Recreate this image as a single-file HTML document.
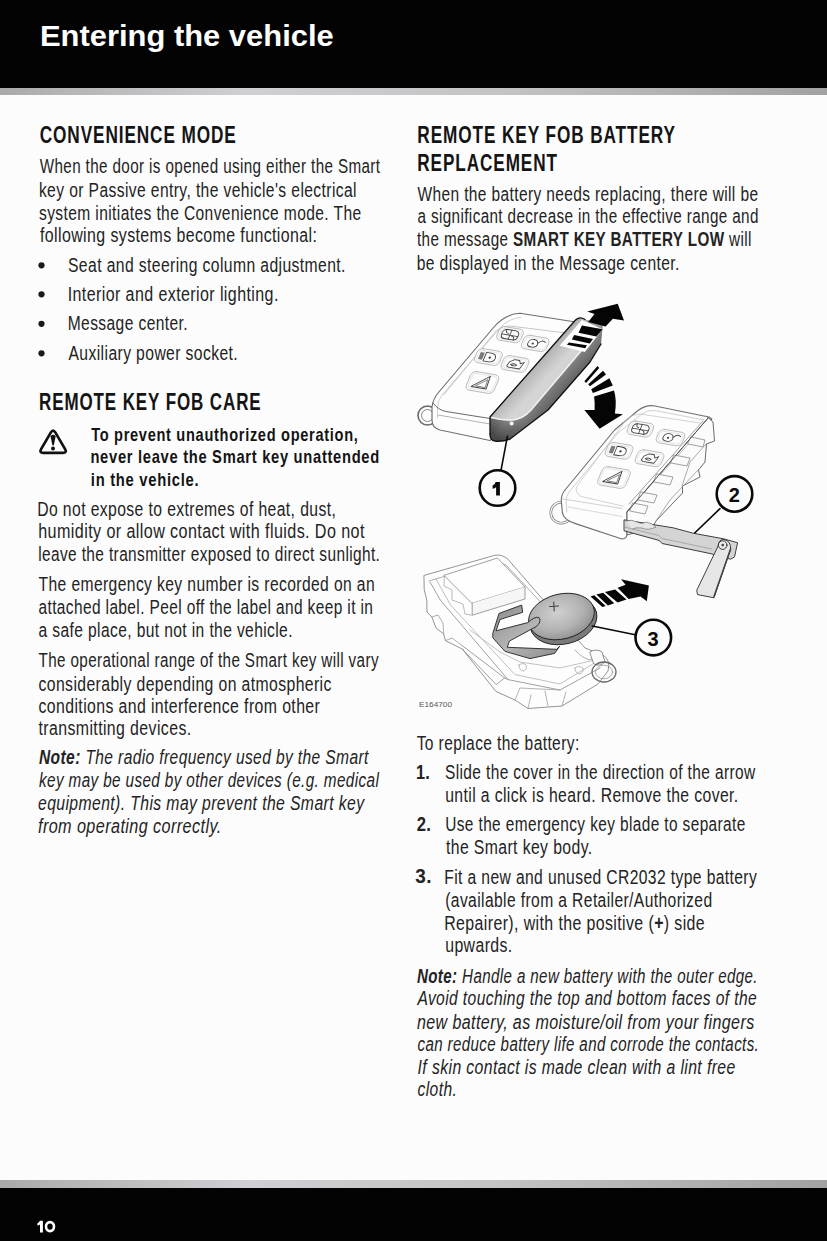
<!DOCTYPE html>
<html><head><meta charset="utf-8"><title>Entering the vehicle</title>
<style>
html,body{margin:0;padding:0;background:#fcfcfc;}
body{width:827px;height:1241px;overflow:hidden;position:relative;}
svg{position:absolute;left:0;top:0;display:block;}
text{font-family:"Liberation Sans",sans-serif;}
</style></head><body>
<svg width="827" height="1241" viewBox="0 0 827 1241">
<defs>
<linearGradient id="band" x1="0" y1="0" x2="1" y2="0">
<stop offset="0" stop-color="#a9a9a9"/><stop offset="0.08" stop-color="#b5b5b5"/><stop offset="0.3" stop-color="#cfcfd4"/><stop offset="0.6" stop-color="#c4c4c4"/><stop offset="1" stop-color="#a2a2a2"/>
</linearGradient>
<linearGradient id="cover" x1="0" y1="1" x2="1" y2="0">
<stop offset="0" stop-color="#4a4a4a"/><stop offset="0.45" stop-color="#8a8a8a"/><stop offset="0.7" stop-color="#b8b8b8"/><stop offset="1" stop-color="#6a6a6a"/>
</linearGradient>
<radialGradient id="coin" cx="0.4" cy="0.35" r="0.8">
<stop offset="0" stop-color="#c8c8c8"/><stop offset="0.6" stop-color="#9a9a9a"/><stop offset="1" stop-color="#6a6a6a"/>
</radialGradient>
</defs>
<rect x="0" y="0" width="827" height="88" fill="#030303"/>
<rect x="0" y="88" width="827" height="7" fill="url(#band)"/>
<rect x="0" y="1180" width="827" height="8" fill="url(#band)"/>
<rect x="0" y="1188" width="827" height="53" fill="#030303"/>
<g fill="#1a1a1a">
<circle cx="41.5" cy="265.3" r="3.1"/>
<circle cx="41.5" cy="294.3" r="3.1"/>
<circle cx="41.5" cy="323.8" r="3.1"/>
<circle cx="41.5" cy="353.3" r="3.1"/>
</g>
<path d="M50.9,432.4 Q53.1,428.7 55.3,432.4 L65.1,449.1 Q67.2,452.8 62.9,452.8 L43.3,452.8 Q39.0,452.8 41.1,449.1 Z" fill="none" stroke="#111" stroke-width="2.7" stroke-linejoin="round"/>
<path d="M50.5,436.2 Q53.1,433.4 55.7,436.2 L53.8,445.2 L52.4,445.2 Z" fill="#111"/>
<circle cx="53.0" cy="448.6" r="2.0" fill="#111"/>

<path d="M39.8,1220.8 L42.9,1220.8 L42.9,1232.4 L40,1232.4 L40,1224.6 Q38.8,1225.4 37.4,1225.6 L37.4,1223.2 Q39.4,1222.6 39.8,1220.8 Z" fill="#ffffff"/>
<ellipse cx="50" cy="1226.6" rx="4.0" ry="4.5" fill="none" stroke="#ffffff" stroke-width="2.6"/>

<g id="illus" stroke-linejoin="round" stroke-linecap="round">
<!-- ===== Fob 2 (right) ===== -->
<g fill="#fdfdfd" stroke="#5a5a5a" stroke-width="0.9">
  <!-- ring -->
  <circle cx="561.3" cy="512.7" r="10.5" fill="none" stroke-width="2.6" stroke="#777"/>
  <circle cx="561.3" cy="512.7" r="10.5" fill="none" stroke-width="1.2" stroke="#fafafa"/>
  <!-- body -->
  <path d="M711.8,419 Q709,416 705,416.3 L655,406 Q646,404.5 638,410.5 L614.6,430 L565,490 Q561,495 561.3,501 L562.4,512.7 Q563.5,520 575.5,523.6 L621.2,538.8 Q626,539.5 627,535 L627,512 Z" stroke="#707070" stroke-width="1.15"/>
  <path d="M704,420 L655,410.5 Q647,409.5 641,414.5 L618,433 L569,492 Q566,496 566.2,502 L566.8,512" fill="none" stroke="#c4c4c4" stroke-width="0.8"/>
  <path d="M563,499 L622,508.5" fill="none" stroke="#c4c4c4" stroke-width="0.8"/>
  <path d="M568,507 L622,516.5" fill="none" stroke="#cfcfcf" stroke-width="0.8"/>
  <path d="M700,423 L640,414 Q632,414 626,420 L577,486 Q574,492 580.9,496.4 L623.3,506.2" fill="none" stroke="#c8c8c8" stroke-width="0.8"/>
<!-- right side structure -->
  <path d="M708,417.5 L713,422 L714.5,441 L706.5,444 L705,462 L698.5,470 L700,477 L682.5,486 L682.5,493 L656,521 L652,528 L627,535 L627,512 L707.8,418.3 Z" fill="#fbfbfb"/>
  <path d="M703,421 L629,504" fill="none" stroke="#888" stroke-width="0.8"/>
  <path d="M692,440 L640,497" fill="none" stroke="#999" stroke-width="0.7"/>
  <path d="M691,437 L705,440 L703,447 L688,444 Z M674,455 L690,458 L687,466 L671,463 Z M657,474 L673,477 L670,485 L654,482 Z M641,492 L657,495 L654,503 L638,500 Z M633,503 L648,506 L645,514 L630,511 Z" fill="#fafafa" stroke="#7a7a7a" stroke-width="0.7"/>
  <path d="M706,444 L690,462 L682,486 M698,470 L670,500 L656,521" fill="none" stroke="#8a8a8a" stroke-width="0.7"/>
  <path d="M627,512 L707.8,418.3" fill="none" stroke="#555" stroke-width="1"/>
</g>
<!-- fob2 buttons -->
<g transform="matrix(1,0.17,-0.42,1,640.4,429)"><rect x="-12.0" y="-6.75" width="24" height="13.5" rx="4.5" fill="#fcfcfc" stroke="#b4b4b4" stroke-width="0.8"/><rect x="-10.2" y="-4.95" width="20.4" height="9.9" rx="3.0" fill="none" stroke="#dcdcdc" stroke-width="0.6"/></g><g transform="matrix(1,0.17,-0.42,1,670.5,437.6)"><rect x="-13.0" y="-6.75" width="26" height="13.5" rx="4.5" fill="#fcfcfc" stroke="#b4b4b4" stroke-width="0.8"/><rect x="-11.2" y="-4.95" width="22.4" height="9.9" rx="3.0" fill="none" stroke="#dcdcdc" stroke-width="0.6"/></g><g transform="matrix(1,0.17,-0.42,1,619.1,450.8)"><rect x="-12.5" y="-7.0" width="25" height="14" rx="4.5" fill="#fcfcfc" stroke="#b4b4b4" stroke-width="0.8"/><rect x="-10.7" y="-5.2" width="21.4" height="10.4" rx="3.0" fill="none" stroke="#dcdcdc" stroke-width="0.6"/></g><g transform="matrix(1,0.17,-0.42,1,649.5,458.2)"><rect x="-13.0" y="-7.0" width="26" height="14" rx="4.5" fill="#fcfcfc" stroke="#b4b4b4" stroke-width="0.8"/><rect x="-11.2" y="-5.2" width="22.4" height="10.4" rx="3.0" fill="none" stroke="#dcdcdc" stroke-width="0.6"/></g><g transform="matrix(1,0.17,-0.42,1,614,477.5)"><rect x="-14.0" y="-9.25" width="28" height="18.5" rx="4.5" fill="#fcfcfc" stroke="#b4b4b4" stroke-width="0.8"/><rect x="-12.2" y="-7.45" width="24.4" height="14.9" rx="3.0" fill="none" stroke="#dcdcdc" stroke-width="0.6"/></g><g transform="matrix(1,0.17,-0.42,1,640.4,429)" fill="none" stroke="#404040" stroke-width="0.85" stroke-linejoin="round" stroke-linecap="round"><path d="M-8,1 Q-9,-4 -4,-4.5 L4,-4.5 Q9,-4 8,1 Q8,4.5 4,4.5 L-4,4.5 Q-8,4.5 -8,1 Z"/><path d="M-8,0.5 L8,0.5 M0,-4.5 L0,4.5"/><path d="M-5,-4.5 Q-5,-1 -2,-1 M5,4.5 Q5,1 2,1"/></g><g transform="matrix(1,0.17,-0.42,1,670.5,437.6)" fill="none" stroke="#404040" stroke-width="0.85" stroke-linejoin="round" stroke-linecap="round"><path d="M-7,1 Q-7,-3.5 -2.5,-3.5 Q2.5,-3.5 2.5,1 Q2.5,4 -2.5,4 Q-7,4 -7,1 Z"/><path d="M2.5,-0.5 Q5,-5 9,-2.5"/><circle cx="-2.3" cy="0.5" r="0.6" fill="#3a3a3a"/></g><g transform="matrix(1,0.17,-0.42,1,619.1,450.8)" fill="none" stroke="#404040" stroke-width="0.85" stroke-linejoin="round" stroke-linecap="round"><rect x="-9" y="-3.5" width="4" height="7" fill="#7a7a7a" stroke="none"/><path d="M-3.5,-4 L1,-4 Q7,-4 7,0.5 Q7,4.5 1,4.5 L-3.5,4.5 Z"/><circle cx="1.5" cy="0.3" r="0.7" fill="#3a3a3a"/></g><g transform="matrix(1,0.17,-0.42,1,649.5,458.2)" fill="none" stroke="#404040" stroke-width="0.85" stroke-linejoin="round" stroke-linecap="round"><path d="M-7,3 L-6,-1 L-2,-4 L3,-4 L5,-1 L8,-3 L7,1 L6,4 L-5,4 Z M-4,1 Q-1,-1 2,1 Q-1,3 -4,1 Z"/></g><g transform="matrix(1,0.17,-0.42,1,614,477.5)" fill="none" stroke="#404040" stroke-width="0.85" stroke-linejoin="round" stroke-linecap="round"><path d="M-9,5.5 L5,-7 L6,5.5 Z" stroke-width="0.9"/><path d="M-5,4 L4,-3.5 L4.5,4 Z" stroke-width="0.7" stroke="#666"/></g>
<!-- blade -->
<g stroke="#2a2a2a" stroke-width="0.9" stroke-linejoin="round">
  <path d="M624.4,519.9 L673.2,527.8 L693.6,533.3 L723.5,538.8 L737.6,542.7 L734.5,556.9 L730.6,559.2 L710.9,553.7 L662.2,543.5 L659,540.4 L624.4,530.9 Z" fill="#d4d4d4"/>
  <path d="M624.4,527 L659,535.5 L662,538.5 L712,549" fill="none" stroke="#8a8a8a" stroke-width="0.6"/>
  <path d="M626,521 q6,-2 11,1 q5,3 9,0 q6,1 10,5 q-8,4 -14,1 q-6,-1 -10,1" fill="#e6e6e6" stroke="#666" stroke-width="0.6"/>
  <path d="M718,545.9 Q719,539 724,539.5 Q731,541 730.6,549 L714,597.8 L697.5,594.6 L696.8,590.7 Z" fill="#e6e6e6"/>
  <path d="M730.6,549 L714,596.5" fill="none" stroke="#444" stroke-width="1.6"/>
  <circle cx="722.7" cy="545.1" r="4.3" fill="#e8e8e8"/>
  <circle cx="722.7" cy="545.1" r="1.3" fill="#444" stroke="none"/>
</g>
<!-- ===== Battery holder (bottom) ===== -->
<g fill="#fdfdfd" stroke="#7a7a7a" stroke-width="0.8" stroke-linejoin="round">
  <path d="M424.3,575.3 L494.8,555.3 Q502,554 508,559.3 L585,648 L603,655 Q611,660 608,671 L598,684 L562,706 L528,708.5 L515,700 L496,691.5 L462.3,649 L445.4,640.6 L443.7,634 L436,628 L431.9,617 L427,612 L426.8,600 L424.3,590 Z"/>
  <path d="M429,581 L496,561 L506,565 L576,640" fill="none" stroke="#9a9a9a"/>
  <path d="M430,582 L440.3,600 L508,679.6 L560,690 L600,668" fill="none" stroke="#8a8a8a"/>
  <path d="M436,579 L450.5,605 L514.8,674.5 L560,684 L596,662" fill="none" stroke="#b0b0b0"/>
  <path d="M462.3,645.7 L504.6,677.9 L508,679.6 M462.3,649 L496.2,684.6 L504.6,677.9" fill="none" stroke="#888"/>
  <path d="M515,700 L520,688 L560,690 M528,708.5 L531,695 M545,691 L548,706 M562,706 L566,692" fill="none" stroke="#a0a0a0"/>
  <path d="M431.9,617 L438,615 L443,623 L443.7,634 M445.4,640.6 L452,638 L462.3,645.7" fill="none" stroke="#999"/>
  <path d="M444.3,575.3 L497.4,558 L525,587 L472.2,603.2 Z" fill="#fefefe" stroke="#888"/>
  <path d="M472.2,603.2 L472.2,615.2 L525,599 L525,587" fill="#f6f6f6" stroke="#888"/>
  <path d="M444.3,575.3 L444,586 L452,590 L452,600 L463,604 L465,614 L472.2,615.2" fill="none" stroke="#aaa"/>
  <path d="M470,630 L500,652 L520,662 L560,668 L595,660" fill="none" stroke="#b4b4b4"/>
  <path d="M575,650 Q582,658 590,660 L598,654" fill="none" stroke="#999"/>
  <path d="M519,665 q4,-3 7,0 q2,4 -2,6 q-5,0 -5,-6 Z M575,668 q4,-3 8,0 q1,5 -4,6 q-4,-1 -4,-6 Z" fill="none" stroke="#aaa"/>
  <path d="M590,652 Q596,648 602,652 L605,662 Q600,667 594,664 Z" fill="#fbfbfb" stroke="#777"/>
  <ellipse cx="604" cy="672" rx="12" ry="10" fill="none" stroke-width="1.3" stroke="#666"/>
  <ellipse cx="604" cy="672" rx="8.5" ry="6.8" fill="none" stroke-width="0.6" stroke="#777"/>
</g>
<!-- coin -->
<defs>
<radialGradient id="coin2" cx="0.45" cy="0.4" r="0.7">
<stop offset="0" stop-color="#d0d0d0"/><stop offset="0.55" stop-color="#b2b2b2"/><stop offset="1" stop-color="#858585"/>
</radialGradient>
</defs>
<g stroke="#222" stroke-width="0.9">
  <ellipse cx="563.5" cy="620.5" rx="34" ry="23.5" transform="rotate(-14 563.5 620.5)" fill="#7a7a7a"/>
  <ellipse cx="561.5" cy="616.5" rx="33.5" ry="22.5" transform="rotate(-14 561.5 616.5)" fill="url(#coin2)"/>
  <path d="M549.5,606.5 l9,-0.5 M553.7,602 l0.5,9" stroke="#444" stroke-width="1.1"/>
</g>
<!-- clip -->
<defs>
<linearGradient id="clipg" x1="0" y1="0" x2="1" y2="1">
<stop offset="0" stop-color="#8a8a8a"/><stop offset="0.5" stop-color="#b5b5b5"/><stop offset="1" stop-color="#8c8c8c"/>
</linearGradient>
</defs>
<path d="M492.9,633 L499,613.4 L521.7,605.1 L522.7,612.3 L500,619.5 L496,630.8 L527.8,622.6 Q535,616 539,617.5 Q542,622 536,626.7 L509.3,641.1 L507.3,647.3 L556.6,649.3 L559.7,646.2 L554.6,653.4 L530,658.6 L505,651.4 L493,638 Z" fill="url(#clipg)" stroke="#222" stroke-width="0.9" stroke-linejoin="round"/>
<!-- ===== Fob 1 (top-left) ===== -->
<g fill="#fdfdfd" stroke="#5a5a5a" stroke-width="0.9">
  <circle cx="427.5" cy="415.5" r="9.5" fill="none" stroke-width="1.6" stroke="#6a6a6a"/>
  <circle cx="427.5" cy="415.5" r="6" fill="none" stroke-width="0.7"/>
  <path d="M520,313.3 L574,321.8 L596,342 L490,440.5 L440,430 Q432,428 432,420 L432,407 Q433,399 438,393 L494,327 Q505,314 520,313.3 Z" stroke="#707070" stroke-width="1.15"/>
  <path d="M521,317.5 Q509,318 500,328 L442,395 Q437.5,401 437.5,408 L437.5,418" fill="none" stroke="#c4c4c4" stroke-width="0.8"/>
  <path d="M433,403 Q438,410 446,411.5 L490,418.5" fill="none"/>
  <path d="M438,415 L490,424" fill="none" stroke="#aaa"/>
  <path d="M444,394.5 L496,331 Q502,325.5 510,326 L566,333" fill="none" stroke="#c0c0c0"/>
</g>
<!-- fob1 buttons -->
<g transform="matrix(1,0.17,-0.42,1,510,334.7)"><rect x="-12.0" y="-6.75" width="24" height="13.5" rx="4.5" fill="#fcfcfc" stroke="#b4b4b4" stroke-width="0.8"/><rect x="-10.2" y="-4.95" width="20.4" height="9.9" rx="3.0" fill="none" stroke="#dcdcdc" stroke-width="0.6"/></g><g transform="matrix(1,0.17,-0.42,1,535.2,343.4)"><rect x="-12.5" y="-6.75" width="25" height="13.5" rx="4.5" fill="#fcfcfc" stroke="#b4b4b4" stroke-width="0.8"/><rect x="-10.7" y="-4.95" width="21.4" height="9.9" rx="3.0" fill="none" stroke="#dcdcdc" stroke-width="0.6"/></g><g transform="matrix(1,0.17,-0.42,1,488.4,357)"><rect x="-12.5" y="-7.0" width="25" height="14" rx="4.5" fill="#fcfcfc" stroke="#b4b4b4" stroke-width="0.8"/><rect x="-10.7" y="-5.2" width="21.4" height="10.4" rx="3.0" fill="none" stroke="#dcdcdc" stroke-width="0.6"/></g><g transform="matrix(1,0.17,-0.42,1,515,364)"><rect x="-12.5" y="-7.0" width="25" height="14" rx="4.5" fill="#fcfcfc" stroke="#b4b4b4" stroke-width="0.8"/><rect x="-10.7" y="-5.2" width="21.4" height="10.4" rx="3.0" fill="none" stroke="#dcdcdc" stroke-width="0.6"/></g><g transform="matrix(1,0.17,-0.42,1,482.4,382.5)"><rect x="-14.0" y="-9.25" width="28" height="18.5" rx="4.5" fill="#fcfcfc" stroke="#b4b4b4" stroke-width="0.8"/><rect x="-12.2" y="-7.45" width="24.4" height="14.9" rx="3.0" fill="none" stroke="#dcdcdc" stroke-width="0.6"/></g><g transform="matrix(1,0.17,-0.42,1,510,334.7)" fill="none" stroke="#404040" stroke-width="0.85" stroke-linejoin="round" stroke-linecap="round"><path d="M-8,1 Q-9,-4 -4,-4.5 L4,-4.5 Q9,-4 8,1 Q8,4.5 4,4.5 L-4,4.5 Q-8,4.5 -8,1 Z"/><path d="M-8,0.5 L8,0.5 M0,-4.5 L0,4.5"/><path d="M-5,-4.5 Q-5,-1 -2,-1 M5,4.5 Q5,1 2,1"/></g><g transform="matrix(1,0.17,-0.42,1,535.2,343.4)" fill="none" stroke="#404040" stroke-width="0.85" stroke-linejoin="round" stroke-linecap="round"><path d="M-7,1 Q-7,-3.5 -2.5,-3.5 Q2.5,-3.5 2.5,1 Q2.5,4 -2.5,4 Q-7,4 -7,1 Z"/><path d="M2.5,-0.5 Q5,-5 9,-2.5"/><circle cx="-2.3" cy="0.5" r="0.6" fill="#3a3a3a"/></g><g transform="matrix(1,0.17,-0.42,1,488.4,357)" fill="none" stroke="#404040" stroke-width="0.85" stroke-linejoin="round" stroke-linecap="round"><rect x="-9" y="-3.5" width="4" height="7" fill="#7a7a7a" stroke="none"/><path d="M-3.5,-4 L1,-4 Q7,-4 7,0.5 Q7,4.5 1,4.5 L-3.5,4.5 Z"/><circle cx="1.5" cy="0.3" r="0.7" fill="#3a3a3a"/></g><g transform="matrix(1,0.17,-0.42,1,515,364)" fill="none" stroke="#404040" stroke-width="0.85" stroke-linejoin="round" stroke-linecap="round"><path d="M-7,3 L-6,-1 L-2,-4 L3,-4 L5,-1 L8,-3 L7,1 L6,4 L-5,4 Z M-4,1 Q-1,-1 2,1 Q-1,3 -4,1 Z"/></g><g transform="matrix(1,0.17,-0.42,1,482.4,382.5)" fill="none" stroke="#404040" stroke-width="0.85" stroke-linejoin="round" stroke-linecap="round"><path d="M-9,5.5 L5,-7 L6,5.5 Z" stroke-width="0.9"/><path d="M-5,4 L4,-3.5 L4.5,4 Z" stroke-width="0.7" stroke="#666"/></g>
<!-- cover -->
<defs>
<linearGradient id="band2" gradientUnits="userSpaceOnUse" x1="545" y1="381" x2="569" y2="403">
<stop offset="0" stop-color="#a2a2a2"/><stop offset="0.3" stop-color="#7c7c7c"/><stop offset="0.75" stop-color="#5c5c5c"/><stop offset="1" stop-color="#474747"/>
</linearGradient>
<linearGradient id="top2" gradientUnits="userSpaceOnUse" x1="536" y1="359" x2="551" y2="373">
<stop offset="0" stop-color="#9a9a9a"/><stop offset="0.3" stop-color="#b8b8b8"/><stop offset="1" stop-color="#d4d4d4"/>
</linearGradient>
<linearGradient id="front" gradientUnits="userSpaceOnUse" x1="497" y1="438" x2="520" y2="414">
<stop offset="0" stop-color="#3e3e3e" stop-opacity="0.9"/><stop offset="1" stop-color="#555" stop-opacity="0"/>
</linearGradient>
</defs>
<path d="M490,417 L575.5,320 Q580,316 585,319.5 L603,323 L601,344 L590,362 L548,410 L510,439 Q502,442 495,441 Q490,440.5 490,434 Z" fill="url(#band2)"/>
<path d="M490,434 L490,417 L496,419 L512,422 L522,416 L545,412 L510,439 Q502,442 495,441 Q490,440.5 490,434 Z" fill="url(#front)"/>
<path d="M490,417 L575.5,320 Q580,316 585,319.5 L594,330 L581,351 L531,410 Q523,419 512,420 Q500,420 490.5,417 Z" fill="url(#top2)"/>
<path d="M581,351 L531,410 Q523,419 512,420 Q500,420 491,417.5" fill="none" stroke="#f2f2f2" stroke-width="1.5"/>
<path d="M490,434 L490,417 L575.5,320 Q580,316 585,319.5" fill="none" stroke="#111" stroke-width="1.3"/>
<path d="M601,344 L590,362 L548,410 L510,439 Q502,442 495,441 Q490,440.5 490,434" fill="none" stroke="#151515" stroke-width="1.4"/>
<circle cx="511.6" cy="423.5" r="2" fill="#f4f4f4"/>
<!-- up arrow -->
<path d="M559.7,345.8 L584.8,352.1 L602.7,329.3 L581.9,320.1 Z" fill="#fdfdfd"/>
<g fill="#050505">
  <path d="M617.7,303.7 L624,320.6 L612.9,318.7 L605.6,326.4 L588.2,322.1 L594.5,313.9 L587.2,311.4 Z"/>
  <path d="M581.9,325.5 L602.7,329.3 L596.4,336.6 L578.5,332.7 Z"/>
  <path d="M574.2,335.1 L593,339 L589.7,343.4 L571.8,339.5 Z"/>
  <path d="M568.9,342.4 L586.8,345.3 L585.3,348.2 L566.9,344.8 Z"/>
</g>
<!-- curved arrow -->
<g fill="#050505">
  <path d="M584.4,410 L599.6,428.7 L622.9,414.3 L614.9,413.4 Q617,400 614,390.6 L594.1,396.5 Q595,403 594.6,410 Z"/>
  <path d="M591.2,389.3 L609.4,378.3 L612.8,385.5 L592.9,393.1 Z"/>
  <path d="M588.2,384.2 L603,370.7 L606,374.5 L589.9,386.3 Z"/>
  <path d="M584.4,381.2 L597.5,366 L599.2,368.1 L586.1,383 Z"/>
</g>
<!-- battery arrow -->
<g fill="#050505">
  <path d="M621,579.2 L648.9,585.5 L646.8,601.2 L640.5,596.6 L628.6,599.1 L617.6,587.7 L625.6,584.7 Z"/>
  <path d="M604.9,591.9 L615.1,589.4 L626.5,599.5 L617.6,602.5 Z"/>
  <path d="M596.4,594.4 L603.2,592.7 L614.2,603.3 L607.9,605.4 Z"/>
  <path d="M590.5,596.6 L594.3,595.3 L605.7,605.9 L602.4,607.1 Z"/>
</g>
<!-- callouts -->
<g fill="none" stroke="#0a0a0a" stroke-width="2.6">
  <circle cx="497.5" cy="488" r="17.8"/>
  <circle cx="734.5" cy="493.9" r="17.8"/>
  <circle cx="653.3" cy="637.6" r="17.8"/>
</g>
<g fill="none" stroke="#0a0a0a" stroke-width="1.6">
  <path d="M507.4,436.4 L501.1,469.8"/>
  <path d="M720,508.7 L694.7,533"/>
  <path d="M592.3,626 L635.2,634.7"/>
</g>
<path d="M495.6,481.9 L499.9,481.9 L499.9,495.4 L496.1,495.4 L496.1,487.2 Q494.6,488.3 492.6,488.7 L492.6,485.6 Q495.2,484.6 495.6,481.9 Z" fill="#0a0a0a"/>
<g font-family="Liberation Sans" font-weight="bold" font-size="20" fill="#0a0a0a" text-anchor="middle">
  <text x="734.3" y="502.2">2</text>
  <text x="653.1" y="645.8">3</text>
</g>
<text x="419" y="707.3" font-family="Liberation Sans" font-size="7.5" fill="#555" textLength="33" lengthAdjust="spacingAndGlyphs">E164700</text>
</g>

<text x="39.94" y="46.2" font-size="30" fill="#ffffff" textLength="293.77" lengthAdjust="spacingAndGlyphs"><tspan font-weight="bold">Entering the vehicle</tspan></text>
<text x="39.70" y="142.7" font-size="24.5" fill="#141414" letter-spacing="1.3" textLength="197.05" lengthAdjust="spacingAndGlyphs"><tspan font-weight="bold">CONVENIENCE MODE</tspan></text>
<text x="39.01" y="410.1" font-size="24.5" fill="#141414" letter-spacing="1.3" textLength="222.53" lengthAdjust="spacingAndGlyphs"><tspan font-weight="bold">REMOTE KEY FOB CARE</tspan></text>
<text x="417.30" y="143.4" font-size="24.5" fill="#141414" letter-spacing="1.3" textLength="258.55" lengthAdjust="spacingAndGlyphs"><tspan font-weight="bold">REMOTE KEY FOB BATTERY</tspan></text>
<text x="417.30" y="170.7" font-size="24.5" fill="#141414" letter-spacing="1.3" textLength="140.59" lengthAdjust="spacingAndGlyphs"><tspan font-weight="bold">REPLACEMENT</tspan></text>
<text x="39.70" y="173" font-size="20" fill="#232323" letter-spacing="0.5" textLength="340.74" lengthAdjust="spacingAndGlyphs"><tspan>When the door is opened using either the Smart</tspan></text>
<text x="38.92" y="196.5" font-size="20" fill="#232323" letter-spacing="0.5" textLength="318.02" lengthAdjust="spacingAndGlyphs"><tspan>key or Passive entry, the vehicle&#x27;s electrical</tspan></text>
<text x="39.00" y="219.5" font-size="20" fill="#232323" letter-spacing="0.5" textLength="322.49" lengthAdjust="spacingAndGlyphs"><tspan>system initiates the Convenience mode. The</tspan></text>
<text x="40.00" y="242" font-size="20" fill="#232323" letter-spacing="0.5" textLength="277.34" lengthAdjust="spacingAndGlyphs"><tspan>following systems become functional:</tspan></text>
<text x="68.00" y="272.1" font-size="20" fill="#232323" letter-spacing="0.5" textLength="277.83" lengthAdjust="spacingAndGlyphs"><tspan>Seat and steering column adjustment.</tspan></text>
<text x="67.70" y="301" font-size="20" fill="#232323" letter-spacing="0.5" textLength="211.05" lengthAdjust="spacingAndGlyphs"><tspan>Interior and exterior lighting.</tspan></text>
<text x="67.72" y="330.4" font-size="20" fill="#232323" letter-spacing="0.5" textLength="120.28" lengthAdjust="spacingAndGlyphs"><tspan>Message center.</tspan></text>
<text x="68.50" y="360" font-size="20" fill="#232323" letter-spacing="0.5" textLength="169.61" lengthAdjust="spacingAndGlyphs"><tspan>Auxiliary power socket.</tspan></text>
<text x="91.20" y="440.5" font-size="19" fill="#141414" letter-spacing="0.9" textLength="267.31" lengthAdjust="spacingAndGlyphs"><tspan font-weight="bold">To prevent unauthorized operation,</tspan></text>
<text x="90.42" y="463" font-size="19" fill="#141414" letter-spacing="0.9" textLength="289.55" lengthAdjust="spacingAndGlyphs"><tspan font-weight="bold">never leave the Smart key unattended</tspan></text>
<text x="90.82" y="486.2" font-size="19" fill="#141414" letter-spacing="0.9" textLength="108.48" lengthAdjust="spacingAndGlyphs"><tspan font-weight="bold">in the vehicle.</tspan></text>
<text x="37.21" y="515.8" font-size="20" fill="#232323" letter-spacing="0.5" textLength="299.01" lengthAdjust="spacingAndGlyphs"><tspan>Do not expose to extremes of heat, dust,</tspan></text>
<text x="38.19" y="538.3" font-size="20" fill="#232323" letter-spacing="0.5" textLength="326.65" lengthAdjust="spacingAndGlyphs"><tspan>humidity or allow contact with fluids. Do not</tspan></text>
<text x="38.23" y="560.8" font-size="20" fill="#232323" letter-spacing="0.5" textLength="342.06" lengthAdjust="spacingAndGlyphs"><tspan>leave the transmitter exposed to direct sunlight.</tspan></text>
<text x="38.50" y="590.5" font-size="20" fill="#232323" letter-spacing="0.5" textLength="336.57" lengthAdjust="spacingAndGlyphs"><tspan>The emergency key number is recorded on an</tspan></text>
<text x="38.50" y="613.6" font-size="20" fill="#232323" letter-spacing="0.5" textLength="334.85" lengthAdjust="spacingAndGlyphs"><tspan>attached label. Peel off the label and keep it in</tspan></text>
<text x="38.50" y="636.7" font-size="20" fill="#232323" letter-spacing="0.5" textLength="254.40" lengthAdjust="spacingAndGlyphs"><tspan>a safe place, but not in the vehicle.</tspan></text>
<text x="38.50" y="667.3" font-size="20" fill="#232323" letter-spacing="0.5" textLength="340.38" lengthAdjust="spacingAndGlyphs"><tspan>The operational range of the Smart key will vary</tspan></text>
<text x="38.50" y="690.5" font-size="20" fill="#232323" letter-spacing="0.5" textLength="293.29" lengthAdjust="spacingAndGlyphs"><tspan>considerably depending on atmospheric</tspan></text>
<text x="38.50" y="712.5" font-size="20" fill="#232323" letter-spacing="0.5" textLength="281.73" lengthAdjust="spacingAndGlyphs"><tspan>conditions and interference from other</tspan></text>
<text x="38.50" y="734.8" font-size="20" fill="#232323" letter-spacing="0.5" textLength="153.03" lengthAdjust="spacingAndGlyphs"><tspan>transmitting devices.</tspan></text>
<text x="39.00" y="763.6" font-size="20" fill="#232323" letter-spacing="0.5" textLength="329.77" lengthAdjust="spacingAndGlyphs"><tspan font-weight="bold" font-style="italic">Note:</tspan><tspan font-style="italic"> The radio frequency used by the Smart</tspan></text>
<text x="39.00" y="786.8" font-size="20" fill="#232323" letter-spacing="0.5" textLength="340.16" lengthAdjust="spacingAndGlyphs"><tspan font-style="italic">key may be used by other devices (e.g. medical</tspan></text>
<text x="38.00" y="809.8" font-size="20" fill="#232323" letter-spacing="0.5" textLength="326.41" lengthAdjust="spacingAndGlyphs"><tspan font-style="italic">equipment). This may prevent the Smart key</tspan></text>
<text x="37.99" y="832.6" font-size="20" fill="#232323" letter-spacing="0.5" textLength="183.68" lengthAdjust="spacingAndGlyphs"><tspan font-style="italic">from operating correctly.</tspan></text>
<text x="417.50" y="200.8" font-size="20" fill="#232323" letter-spacing="0.5" textLength="340.88" lengthAdjust="spacingAndGlyphs"><tspan>When the battery needs replacing, there will be</tspan></text>
<text x="417.50" y="223.3" font-size="20" fill="#232323" letter-spacing="0.5" textLength="341.34" lengthAdjust="spacingAndGlyphs"><tspan>a significant decrease in the effective range and</tspan></text>
<text x="417.00" y="246.3" font-size="20" fill="#232323" letter-spacing="0.5" textLength="334.72" lengthAdjust="spacingAndGlyphs"><tspan>the message </tspan><tspan font-weight="bold">SMART KEY BATTERY LOW</tspan><tspan> will</tspan></text>
<text x="416.72" y="270.1" font-size="20" fill="#232323" letter-spacing="0.5" textLength="263.09" lengthAdjust="spacingAndGlyphs"><tspan>be displayed in the Message center.</tspan></text>
<text x="416.70" y="749.8" font-size="20" fill="#232323" letter-spacing="0.5" textLength="162.90" lengthAdjust="spacingAndGlyphs"><tspan>To replace the battery:</tspan></text>
<text x="415.89" y="778.8" font-size="20" fill="#232323" letter-spacing="0.5" textLength="14.37" lengthAdjust="spacingAndGlyphs"><tspan font-weight="bold">1.</tspan></text>
<text x="445.00" y="779" font-size="20" fill="#232323" letter-spacing="0.5" textLength="310.56" lengthAdjust="spacingAndGlyphs"><tspan>Slide the cover in the direction of the arrow</tspan></text>
<text x="445.21" y="802" font-size="20" fill="#232323" letter-spacing="0.5" textLength="293.41" lengthAdjust="spacingAndGlyphs"><tspan>until a click is heard. Remove the cover.</tspan></text>
<text x="416.70" y="831.2" font-size="20" fill="#232323" letter-spacing="0.5" textLength="14.68" lengthAdjust="spacingAndGlyphs"><tspan font-weight="bold">2.</tspan></text>
<text x="445.23" y="831.2" font-size="20" fill="#232323" letter-spacing="0.5" textLength="300.45" lengthAdjust="spacingAndGlyphs"><tspan>Use the emergency key blade to separate</tspan></text>
<text x="446.00" y="854.3" font-size="20" fill="#232323" letter-spacing="0.5" textLength="146.52" lengthAdjust="spacingAndGlyphs"><tspan>the Smart key body.</tspan></text>
<text x="415.32" y="883" font-size="20" fill="#232323" letter-spacing="0.5" textLength="16.73" lengthAdjust="spacingAndGlyphs"><tspan font-weight="bold">3.</tspan></text>
<text x="444.21" y="883.5" font-size="20" fill="#232323" letter-spacing="0.5" textLength="312.98" lengthAdjust="spacingAndGlyphs"><tspan>Fit a new and unused CR2032 type battery</tspan></text>
<text x="445.22" y="906.5" font-size="20" fill="#232323" letter-spacing="0.5" textLength="267.25" lengthAdjust="spacingAndGlyphs"><tspan>(available from a Retailer/Authorized</tspan></text>
<text x="444.20" y="929.5" font-size="20" fill="#232323" letter-spacing="0.5" textLength="260.90" lengthAdjust="spacingAndGlyphs"><tspan>Repairer), with the positive (</tspan><tspan font-weight="bold">+</tspan><tspan>) side</tspan></text>
<text x="445.21" y="952.3" font-size="20" fill="#232323" letter-spacing="0.5" textLength="67.42" lengthAdjust="spacingAndGlyphs"><tspan>upwards.</tspan></text>
<text x="416.90" y="982.7" font-size="20" fill="#232323" letter-spacing="0.5" textLength="341.06" lengthAdjust="spacingAndGlyphs"><tspan font-weight="bold" font-style="italic">Note:</tspan><tspan font-style="italic"> Handle a new battery with the outer edge.</tspan></text>
<text x="417.38" y="1005.3" font-size="20" fill="#232323" letter-spacing="0.5" textLength="339.71" lengthAdjust="spacingAndGlyphs"><tspan font-style="italic">Avoid touching the top and bottom faces of the</tspan></text>
<text x="416.90" y="1028.6" font-size="20" fill="#232323" letter-spacing="0.5" textLength="337.70" lengthAdjust="spacingAndGlyphs"><tspan font-style="italic">new battery, as moisture/oil from your fingers</tspan></text>
<text x="417.59" y="1050.7" font-size="20" fill="#232323" letter-spacing="0.5" textLength="341.56" lengthAdjust="spacingAndGlyphs"><tspan font-style="italic">can reduce battery life and corrode the contacts.</tspan></text>
<text x="417.59" y="1074.3" font-size="20" fill="#232323" letter-spacing="0.5" textLength="318.10" lengthAdjust="spacingAndGlyphs"><tspan font-style="italic">If skin contact is made clean with a lint free</tspan></text>
<text x="417.55" y="1096.4" font-size="20" fill="#232323" letter-spacing="0.5" textLength="39.65" lengthAdjust="spacingAndGlyphs"><tspan font-style="italic">cloth.</tspan></text>
</svg>
</body></html>
